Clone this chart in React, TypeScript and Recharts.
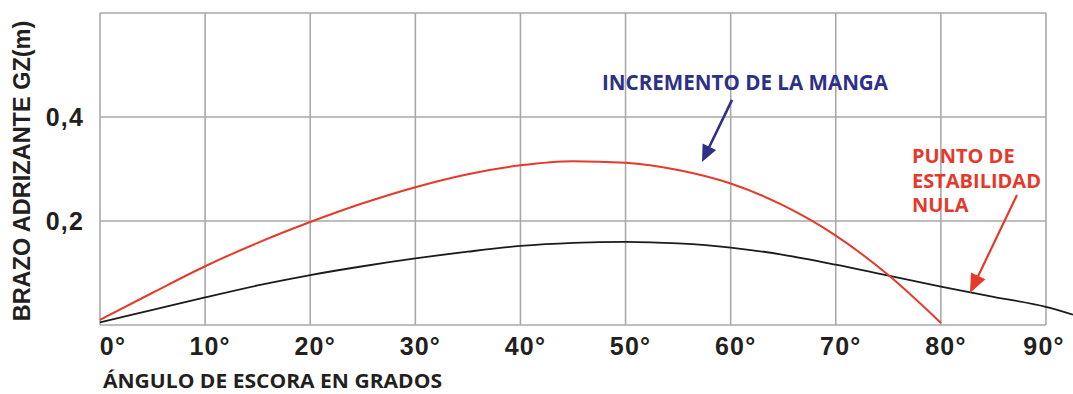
import React from "react";
import { LineChart, Line, XAxis, YAxis, ReferenceLine, ReferenceDot } from "recharts";

// ---- data ----
const angles = [0, 5, 10, 15, 20, 25, 30, 35, 40, 45, 50, 55, 60, 65, 70, 75, 80, 85, 90, 92.57];
const gzOriginal = [0.005, 0.029, 0.053, 0.076, 0.096, 0.113, 0.128, 0.141, 0.152, 0.158, 0.160, 0.157, 0.149, 0.135, 0.116, 0.095, 0.074, 0.054, 0.035, 0.02];
const gzIncreased = [0.01, 0.062, 0.113, 0.158, 0.198, 0.234, 0.265, 0.29, 0.307, 0.315, 0.312, 0.298, 0.272, 0.23, 0.172, 0.096, 0.004, null, null, null];

const xTicks = [0, 10, 20, 30, 40, 50, 60, 70, 80, 90];
const xTickLabels = ["0°", "10°", "20°", "30°", "40°", "50°", "60°", "70°", "80°", "90°"];
const yTicks = [0.2, 0.4];
const yTickLabels = ["0,2", "0,4"];
const gridY = [0, 0.2, 0.4, 0.6];

const xTitle = "ÁNGULO DE ESCORA EN GRADOS";
const yTitle = "BRAZO ADRIZANTE GZ(m)";
const blueNote = "INCREMENTO DE LA MANGA";
const redNoteLines = ["PUNTO DE", "ESTABILIDAD", "NULA"];

// annotation anchors in data coordinates
const blueNoteAnchor = { x: 47.76, y: 0.452 };
const blueArrow = [{ x: 60.13, y: 0.433 }, { x: 57.27, y: 0.3135 }];
const redNoteAnchor = { x: 77.25, y: 0.3115 };
const redArrow = [{ x: 87.24, y: 0.25 }, { x: 82.77, y: 0.0615 }];

const data = angles.map((a, i) => ({ angle: a, base: gzOriginal[i], increased: gzIncreased[i] }));

const RED = "#e5392b";
const BLUE = "#2e3088";
const GRID = "#a9a9a9";
const TEXT = "#231f20";

const makeArrow = (color: string, width: number, headLen: number, headHalf: number) => (p: any) => {
  const { x1, y1, x2, y2 } = p;
  const dx = x2 - x1;
  const dy = y2 - y1;
  const len = Math.sqrt(dx * dx + dy * dy) || 1;
  const ux = dx / len;
  const uy = dy / len;
  const bx = x2 - ux * headLen;
  const by = y2 - uy * headLen;
  const px = -uy * headHalf;
  const py = ux * headHalf;
  return (
    <g>
      <line x1={x1} y1={y1} x2={bx + ux * 2} y2={by + uy * 2} stroke={color} strokeWidth={width} />
      <polygon points={`${x2},${y2} ${bx + px},${by + py} ${bx - px},${by - py}`} fill={color} />
    </g>
  );
};

const XTick = (props: any) => {
  const { x, y, payload } = props;
  const idx = xTicks.indexOf(payload.value);
  const dx = payload.value === 0 ? 13 : payload.value === 90 ? -2 : 5;
  return (
    <text x={x + dx} y={y} dy="0.71em" textAnchor="middle" fill={TEXT}
      style={{ fontFamily: "'Liberation Sans', Arial, sans-serif", fontWeight: 700, fontSize: 25, letterSpacing: 1.2 }}>
      {xTickLabels[idx]}
    </text>
  );
};

const YTick = (props: any) => {
  const { x, y, payload } = props;
  const idx = yTicks.indexOf(payload.value);
  return (
    <text x={x} y={y} dy="0.355em" textAnchor="end" fill={TEXT}
      style={{ fontFamily: "'Liberation Sans', Arial, sans-serif", fontWeight: 700, fontSize: 25, letterSpacing: 1.2 }}>
      {yTickLabels[idx]}
    </text>
  );
};

const YTitle = (props: any) => {
  const vb = props.viewBox || { x: 0, y: 13, width: 100, height: 312 };
  const cx = vb.x + 22;
  const cy = vb.y + vb.height / 2 + 2;
  return (
    <text x={cx} y={cy} transform={`rotate(-90, ${cx}, ${cy})`} textAnchor="middle" dominantBaseline="central" fill={TEXT}
      style={{ fontFamily: "'Liberation Sans', Arial, sans-serif", fontWeight: 700, fontSize: 23.5 }}>
      {yTitle}
    </text>
  );
};

const XTitle = (props: any) => {
  const vb = props.viewBox || { x: 100, y: 325, width: 973, height: 69 };
  return (
    <text x={vb.x + 3} y={vb.y + 63} textAnchor="start" fill={TEXT} textLength={339} lengthAdjust="spacingAndGlyphs"
      style={{ fontFamily: "'Open Sans', sans-serif", fontWeight: 700, fontSize: 19 }}>
      {xTitle}
    </text>
  );
};

const BlueNote = (p: any) => (
  <text x={p.cx} y={p.cy} textAnchor="start" fill={BLUE} textLength={286} lengthAdjust="spacingAndGlyphs"
    style={{ fontFamily: "'Open Sans', sans-serif", fontWeight: 700, fontSize: 21 }}>
    {blueNote}
  </text>
);

const RedNote = (p: any) => (
  <text x={p.cx} y={p.cy} textAnchor="start" fill={RED}
    style={{ fontFamily: "'Open Sans', sans-serif", fontWeight: 700, fontSize: 20 }}>
    {redNoteLines.map((t, i) => (
      <tspan key={i} x={p.cx} dy={i === 0 ? 0 : 24.5}>{t}</tspan>
    ))}
  </text>
);

export default function App() {
  return (
    <div style={{ position: "absolute", left: 0, top: 0, width: 1073, height: 394, background: "#fff" }}>
      <LineChart width={1073} height={394} data={data} margin={{ top: 13, right: 0, bottom: 0, left: 0 }}>
        <XAxis dataKey="angle" type="number" domain={[0, 92.57]} ticks={xTicks} height={69}
          tickSize={0} tickMargin={12} axisLine={false} tickLine={false} tick={XTick} interval={0}
          label={{ content: XTitle }} />
        <YAxis type="number" domain={[0, 0.6]} ticks={yTicks} width={100}
          tickSize={0} tickMargin={16} axisLine={false} tickLine={false} tick={YTick} interval={0}
          label={{ content: YTitle }} />
        {xTicks.map((t) => (
          <ReferenceLine key={`vx${t}`} x={t} stroke={GRID} strokeWidth={1.6} />
        ))}
        {gridY.map((v) => (
          <ReferenceLine key={`hy${v}`} segment={[{ x: 0, y: v }, { x: 90, y: v }]} stroke={GRID} strokeWidth={1.6} />
        ))}
        <Line type="monotone" dataKey="base" stroke="#1b1b1b" strokeWidth={1.8} dot={false} isAnimationActive={false} />
        <Line type="monotone" dataKey="increased" stroke={RED} strokeWidth={2} dot={false} isAnimationActive={false} />
        <ReferenceLine segment={blueArrow} shape={makeArrow(BLUE, 2.6, 17, 7.5)} />
        <ReferenceLine segment={redArrow} shape={makeArrow(RED, 2.2, 19, 8)} />
        <ReferenceDot x={blueNoteAnchor.x} y={blueNoteAnchor.y} r={0} shape={BlueNote} />
        <ReferenceDot x={redNoteAnchor.x} y={redNoteAnchor.y} r={0} shape={RedNote} />
      </LineChart>
    </div>
  );
}
